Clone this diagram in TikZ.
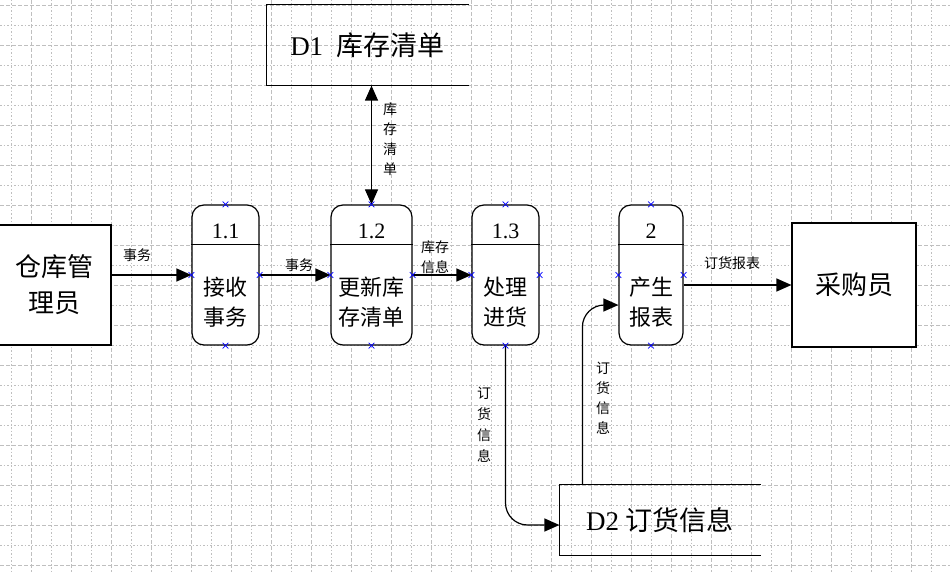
\documentclass[tikz,border=0pt]{standalone}
\usepackage{fontspec}
\setmainfont{Liberation Serif}
\newfontfamily\cjk{Noto Sans CJK SC}
\usetikzlibrary{arrows.meta,shapes.misc}

\begin{document}
\begin{tikzpicture}[x=1pt,y=-1pt,line width=1.2pt,
	>={Triangle[length=15pt,width=13pt]},
	entity/.style={draw,rectangle,fill=white,inner sep=0pt,align=center,font=\fontsize{26}{36}\cjk},
	proc/.style={draw,rectangle,fill=white,rounded corners=12pt,minimum height=140pt,inner sep=0pt},
	store/.style={rectangle,inner sep=0pt,font=\fontsize{27}{32}\selectfont},
	flow/.style={inner sep=0pt,align=center,font=\fontsize{14}{20}\cjk},
	ptext/.style={inner sep=0pt,align=center,font=\fontsize{22}{30}\cjk},
	pnum/.style={inner sep=0pt,font=\fontsize{22}{26}\selectfont},
	xmark/.style={draw=blue,cross out,minimum size=5pt,inner sep=0pt,line width=0.7pt}]
		\useasboundingbox (0,0) rectangle (950,572);
		% grid
		\foreach \x in {11.5,51.5,...,931.5}
		\draw[gray!50,line width=0.8pt,dash pattern=on 1.5pt off 2pt] (\x,0)--(\x,572);
		\foreach \x in {31.5,71.5,...,911.5}
		\draw[gray!50,line width=0.8pt,dash pattern=on 4pt off 2pt] (\x,0)--(\x,572);
		\foreach \y in {25,65,...,545}
		\draw[gray!50,line width=0.8pt,dash pattern=on 1.5pt off 2pt] (0,\y)--(950,\y);
		\foreach \y in {5,45,...,565}
		\draw[gray!50,line width=0.8pt,dash pattern=on 4pt off 2pt] (0,\y)--(950,\y);
		% external entities
		\node[entity,minimum width=113pt,minimum height=120pt] (clerk) at (54.5,285) {仓库管\\理员};
		\node[entity,minimum width=124pt,minimum height=124pt] (buyer) at (854,285) {采购员};
		% processes
		\node[proc,minimum width=67pt] (p11) at (225.5,275) {};
		\node[proc,minimum width=81pt] (p12) at (371.5,275) {};
		\node[proc,minimum width=67pt] (p13) at (505.5,275) {};
		\node[proc,minimum width=64pt] (p2) at (651,275) {};
		\foreach \p in {p11,p12,p13,p2}
		\draw ([yshift=-40pt]\p.north west) -- ([yshift=-40pt]\p.north east);
		\node[pnum] (n11) at ([yshift=-27pt]p11.north) {1.1};
		\node[pnum] (n12) at ([yshift=-27pt]p12.north) {1.2};
		\node[pnum] (n13) at ([yshift=-27pt]p13.north) {1.3};
		\node[pnum] (n2) at ([yshift=-27pt]p2.north) {2};
		\node[ptext] (t11) at ([yshift=-27pt]p11.center) {接收\\事务};
		\node[ptext] (t12) at ([yshift=-27pt]p12.center) {更新库\\存清单};
		\node[ptext] (t13) at ([yshift=-27pt]p13.center) {处理\\进货};
		\node[ptext] (t2) at ([yshift=-27pt]p2.center) {产生\\报表};
		% data stores
		\node[store,minimum width=201pt,minimum height=80pt] (d1) at (367.5,45) {D1~~{\cjk 库存清单}};
		\node[store,minimum width=200pt,minimum height=70pt] (d2) at (660,520) {D2 {\cjk 订货信息}};
		\draw (d1.north east) -- (d1.north west) -- (d1.south west) -- (d1.south east);
		\draw (d2.north east) -- (d2.north west) -- (d2.south west) -- (d2.south east);
		% flows
		\draw[->] (clerk.east |- p11.west) -- (p11.west);
		\draw[->] (p11.east) -- (p12.west);
		\draw[->] (p12.east) -- (p13.west);
		\draw[<->] (p12.north |- d1.south) -- (p12.north);
		\draw[->,rounded corners=22pt] (p13.south) |- ([yshift=-5pt]d2.west);
		\draw[->,rounded corners=22pt] ([xshift=23pt]d2.north west) |- ([yshift=-30pt]p2.west);
		\draw[->] (p2.east |- buyer.west) -- (buyer.west);
		\node[flow] (f1) at (137,255) {事务};
		\node[flow] (f2) at (299,265) {事务};
		\node[flow] (f3) at (435,257) {库存\\信息};
		\node[flow] (f4) at (390,139) {库\\存\\清\\单};
		\node[flow,font=\fontsize{14}{21}\cjk] (f5) at (484,425) {订\\货\\信\\息};
		\node[flow] (f6) at (603,398) {订\\货\\信\\息};
		\node[flow] (f7) at (732,263) {订货报表};
		% connection points
		\foreach \p in {p11,p12,p13,p2}
		\foreach \a in {north,south,east,west}
		\node[xmark] at (\p.\a) {};
\end{tikzpicture}
\end{document}
